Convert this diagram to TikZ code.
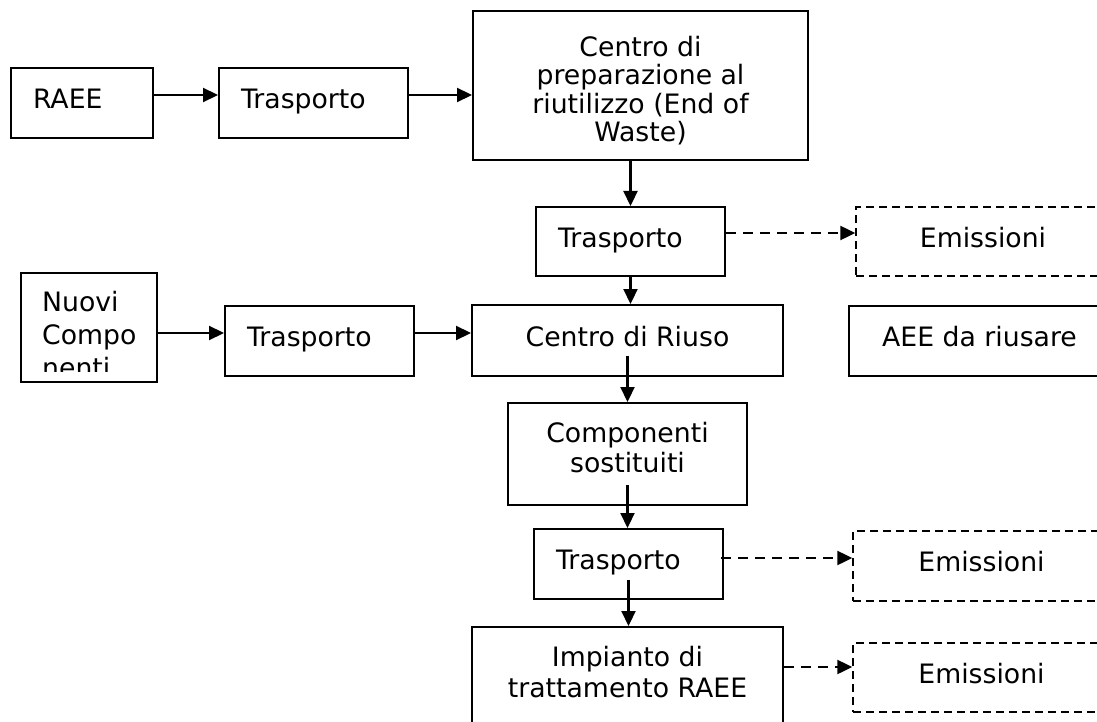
\documentclass[tikz,border=0pt]{standalone}
\usepackage{fontspec}
\setmainfont{DejaVu Sans}
\usetikzlibrary{arrows.meta}
\tikzset{box/.style={draw,line width=2pt,inner sep=0pt},emis/.style={draw,line width=1.4pt,dash pattern=on 8pt off 5pt,inner sep=0pt},oneline/.style={text height=19pt,text depth=8pt},padl/.style={align=left,inner xsep=22pt,text width=#1},flow/.style={line width=2.2pt,-{Triangle[length=15pt,width=14pt]}},leak/.style={line width=2.2pt,dash pattern=on 10pt off 7pt,-{Triangle[length=15pt,width=14pt]}}}

\begin{document}
\begin{tikzpicture}[x=1pt,y=-1pt,font=\fontsize{26.7}{30}\selectfont]
\useasboundingbox (0,0) rectangle (1097,722);
\clip (0,0) rectangle (1097,722);
% Waste stream into the preparation centre.
\node[box,oneline,padl=98pt,minimum height=70pt] (raee) at (82,103) {RAEE};
\node[box,oneline,padl=145pt,minimum height=70pt] (tr1) at (313.5,103) {Trasporto};
\node[box,align=center,minimum width=335pt,minimum height=149pt,text height=118pt,text depth=5pt,font=\fontsize{26.7}{28.5}\selectfont] (prep) at (640.5,85.5) {Centro di\\preparazione al\\riutilizzo (End of\\Waste)};
\draw[flow] ([yshift=8pt]raee.east) -- ([yshift=8pt]tr1.west);
\draw[flow] ([yshift=8pt]tr1.east) -- ([yshift=8pt]tr1.east -| prep.west);
% Transport to the reuse centre, with its emissions.
\node[box,oneline,padl=145pt,minimum height=69pt] (tr2) at (630.5,241.5) {Trasporto};
\node[emis,oneline,minimum width=254pt,minimum height=69pt] (emis1) at (983,241.5) {Emissioni};
\draw[flow] (prep.south -| tr2.north) -- (tr2.north);
\draw[leak] ([yshift=8.5pt]tr2.east) -- ([yshift=8.5pt]tr2.east -| emis1.west);
% New components brought in.
\node[box,minimum width=136pt,minimum height=109pt] (nuovi) at (89,327.5) {};
\begin{scope}
\clip (nuovi.north west) rectangle ([yshift=12pt]nuovi.south east);
\node[anchor=north west,align=left,inner sep=0pt,font=\fontsize{26.7}{33}\selectfont] (nuovitxt) at ([xshift=22pt,yshift=-19pt]nuovi.north west) {Nuovi\\Compo\\nenti};
\end{scope}
\node[box,oneline,padl=145pt,minimum height=70pt] (tr3) at (319.5,341) {Trasporto};
\node[box,oneline,minimum width=311pt,minimum height=71pt] (riuso) at (627.5,340.5) {Centro di Riuso};
\node[box,oneline,minimum width=261pt,minimum height=70pt] (aee) at (979.5,341) {AEE da riusare};
\draw[flow] (tr2.south) -- (tr2.south |- riuso.north);
\draw[flow] ([yshift=-5.5pt]nuovi.east) -- ([yshift=-5.5pt]nuovi.east -| tr3.west);
\draw[flow] ([yshift=8pt]tr3.east) -- ([yshift=8pt]tr3.east -| riuso.west);
% Replaced parts go to treatment.
\node[box,align=center,minimum width=239pt,minimum height=102pt,text height=40pt,text depth=4pt] (comp) at (627.5,454) {Componenti\\sostituiti};
\node[box,oneline,padl=145pt,minimum height=70pt] (tr4) at (628.5,564) {Trasporto};
\node[emis,oneline,minimum width=257pt,minimum height=70pt] (emis2) at (981.5,566) {Emissioni};
\node[box,align=center,minimum width=311pt,minimum height=100pt,text height=44pt,text depth=4pt,font=\fontsize{26.7}{31}\selectfont] (imp) at (627.5,677) {Impianto di\\trattamento RAEE};
\node[emis,oneline,minimum width=257pt,minimum height=69pt] (emis3) at (981.5,677.5) {Emissioni};
\draw[flow] ([yshift=-15pt]riuso.center -| comp.north) -- (comp.north);
\draw[flow] ([yshift=-31pt]comp.center) -- (comp.center |- tr4.north);
\draw[flow] ([yshift=-16pt]tr4.center) -- (tr4.center |- imp.north);
\draw[leak] ([xshift=-3pt,yshift=6pt]tr4.east) -- ([yshift=6pt]tr4.east -| emis2.west);
\draw[leak] ([yshift=10pt]imp.east) -- ([yshift=10pt]imp.east -| emis3.west);
\end{tikzpicture}
\end{document}
